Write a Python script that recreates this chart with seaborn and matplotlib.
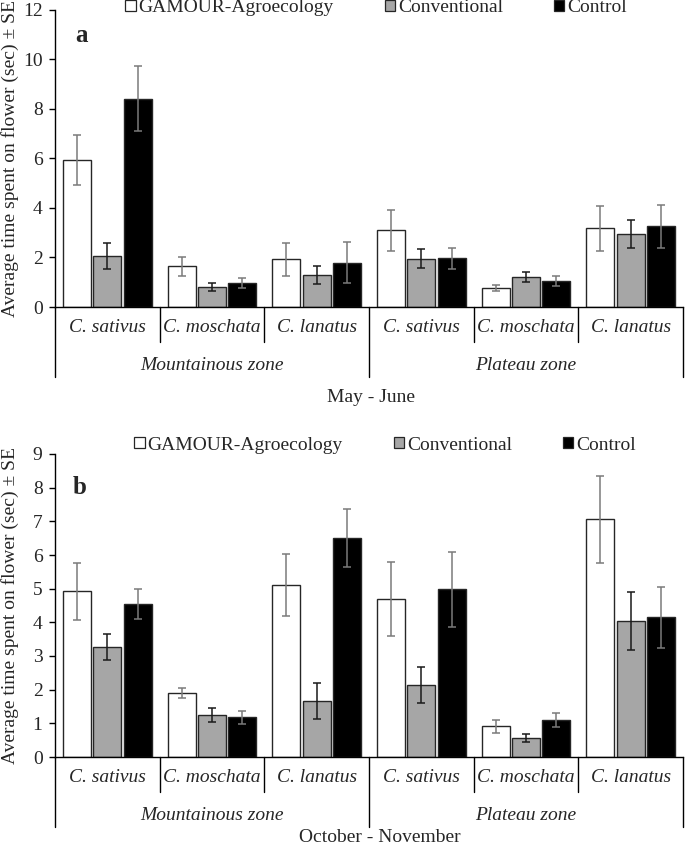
import numpy as np
import pandas as pd
import seaborn as sns
import matplotlib.pyplot as plt
from matplotlib.patches import Patch
import matplotlib.transforms as mtransforms

# ---------------- data ----------------
crops = ["C. sativus", "C. moschata", "C. lanatus", "C. sativus", "C. moschata", "C. lanatus"]
zones = ["Mountainous zone", "Plateau zone"]
treatments = ["GAMOUR-Agroecology", "Conventional", "Control"]

# Panel a (May - June)
a_gamour = [5.92, 1.64, 1.92, 3.09, 0.77, 3.18]
a_gamour_se = [1.00, 0.39, 0.68, 0.84, 0.13, 0.91]
a_conv = [2.07, 0.79, 1.29, 1.95, 1.22, 2.94]
a_conv_se = [0.52, 0.16, 0.38, 0.38, 0.20, 0.55]
a_ctrl = [8.40, 0.96, 1.79, 1.96, 1.06, 3.25]
a_ctrl_se = [1.32, 0.19, 0.84, 0.44, 0.20, 0.87]

# Panel b (October - November)
b_gamour = [4.92, 1.91, 5.11, 4.70, 0.91, 7.06]
b_gamour_se = [0.84, 0.15, 0.91, 1.10, 0.19, 1.30]
b_conv = [3.27, 1.25, 1.67, 2.14, 0.56, 4.05]
b_conv_se = [0.39, 0.20, 0.53, 0.53, 0.12, 0.86]
b_ctrl = [4.54, 1.18, 6.50, 4.98, 1.10, 4.15]
b_ctrl_se = [0.45, 0.20, 0.87, 1.12, 0.20, 0.91]

periods = ["May - June", "October - November"]
panel_letters = ["a", "b"]

# ---------------- style ----------------
sns.set_style("ticks")
plt.rcParams["font.family"] = ["Liberation Serif", "DejaVu Serif"]
plt.rcParams["mathtext.fontset"] = "stix"

fills = ["#ffffff", "#a6a6a6", "#000000"]
edge = "#262626"
err_colors = ["#7a7a7a", "#1a1a1a", "#7a7a7a"]
FS = 14

W, H = 685, 844
fig = plt.figure(figsize=(W / 100, H / 100), dpi=100)

left_px, right_px = 55, 683
layouts = [(9.5, 307), (454, 757)]  # top, bottom pixel of each axes


def make_df(g, c, k):
    keys = [f"{zones[i // 3]}|{crops[i]}" for i in range(6)]
    rows = []
    for t, vals in zip(treatments, [g, c, k]):
        for key, v in zip(keys, vals):
            rows.append({"group": key, "treatment": t, "value": v})
    return pd.DataFrame(rows), keys


panels = [
    (a_gamour, a_conv, a_ctrl, a_gamour_se, a_conv_se, a_ctrl_se, 12, 2),
    (b_gamour, b_conv, b_ctrl, b_gamour_se, b_conv_se, b_ctrl_se, 9, 1),
]

for p, (g, c, k, gse, cse, kse, ymax, ystep) in enumerate(panels):
    top_px, bot_px = layouts[p]
    ax_h = bot_px - top_px
    ax = fig.add_axes([left_px / W, 1 - bot_px / H, (right_px - left_px) / W, ax_h / H])
    df, keys = make_df(g, c, k)
    sns.barplot(data=df, x="group", y="value", hue="treatment", order=keys,
                hue_order=treatments, palette=fills, edgecolor=edge, linewidth=1.0,
                errorbar=None, width=0.87, gap=0.07, legend=False, ax=ax, zorder=2)
    # error bars
    for i, (cont, se) in enumerate(zip(ax.containers, [gse, cse, kse])):
        xs = [b.get_x() + b.get_width() / 2 for b in cont]
        hs = [b.get_height() for b in cont]
        ax.errorbar(xs, hs, yerr=se, fmt="none", ecolor=err_colors[i],
                    elinewidth=1.1, capsize=2.6, capthick=1.1, zorder=3)

    ax.set_xlim(-0.5, 5.5)
    ax.set_ylim(0, ymax)
    ax.set_yticks(np.arange(0, ymax + 0.01, ystep))
    ax.set_xticks(range(6))
    ax.set_xticklabels(crops, fontstyle="italic", fontsize=FS)
    ax.tick_params(axis="x", length=0, pad=9)
    ax.tick_params(axis="y", length=4, width=1, labelsize=FS, pad=5, color="black")
    for s in ["top", "right"]:
        ax.spines[s].set_visible(False)
    for s in ["left", "bottom"]:
        ax.spines[s].set_color("black")
        ax.spines[s].set_linewidth(1.0)
    ax.set_xlabel("")
    ax.set_ylabel("Average time spent on flower (sec) ± SE", fontsize=FS)
    ax.yaxis.set_label_coords((19 - left_px) / (right_px - left_px), 0.5)

    trans = mtransforms.blended_transform_factory(ax.transData, ax.transAxes)
    for xb in [0.5, 1.5, 3.5, 4.5]:
        ax.plot([xb, xb], [0, -35 / ax_h], color="black", lw=1.0, transform=trans, clip_on=False)
    for xb in [-0.5, 2.5, 5.5]:
        ax.plot([xb, xb], [0, -70 / ax_h], color="black", lw=1.0, transform=trans, clip_on=False)
    ax.text(1.0, -59 / ax_h, zones[0], transform=trans, ha="center", va="center",
            fontsize=FS, fontstyle="italic")
    ax.text(4.0, -59 / ax_h, zones[1], transform=trans, ha="center", va="center",
            fontsize=FS, fontstyle="italic")
    title_off = 90 if p == 0 else 80
    title_x = 2.52 if p == 0 else 2.6
    ax.text(title_x, -title_off / ax_h, periods[p], transform=trans, ha="center", va="center",
            fontsize=FS)

    # legend
    handles = [Patch(facecolor=f, edgecolor=edge, linewidth=0.9) for f in fills]
    leg_y = [8, 445][p]
    leg_x = [376, 385][p]
    fig.legend(handles, treatments, loc="center", bbox_to_anchor=(leg_x / W, 1 - leg_y / H),
               ncol=3, frameon=False, fontsize=FS, handlelength=0.55, handleheight=0.55,
               handletextpad=0.15, columnspacing=2.6, borderpad=0, borderaxespad=0)

    # panel letter
    lx, ly = [(82, 35), (80, 487)][p]
    fig.text(lx / W, 1 - ly / H, panel_letters[p], fontsize=18, fontweight="bold",
             ha="center", va="center")

fig.savefig("out.png", dpi=100)
